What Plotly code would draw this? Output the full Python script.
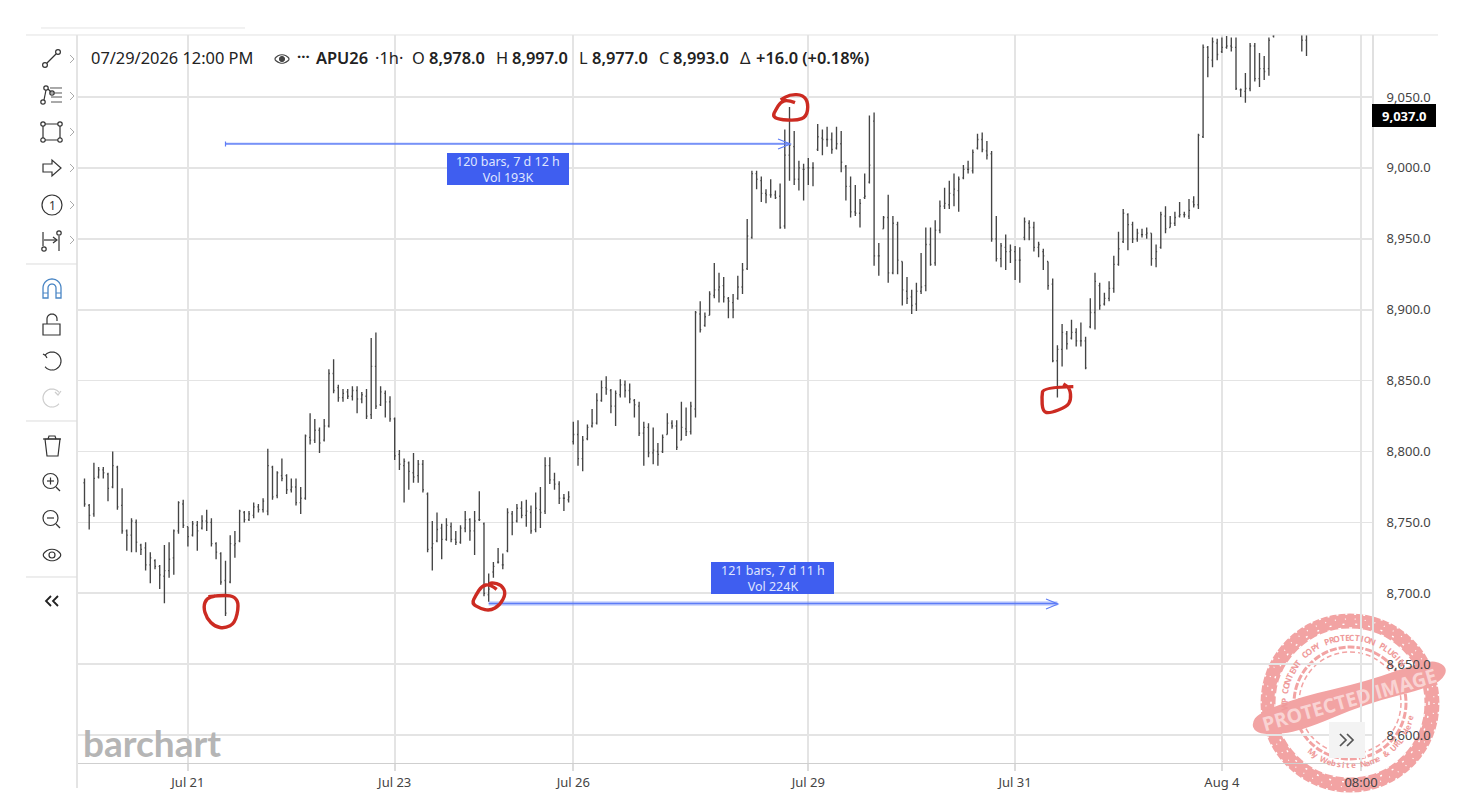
import math
import plotly.graph_objects as go

W, H = 1484, 812

# ---------- data ----------
highs = [8781,8763,8792,8789,8789,8785,8800,8790,8774,8745,
 8753,8752,8735,8736,8729,8724,8720,8734,8736,8745,
 8765,8766,8747,8751,8751,8755,8759,8753,8736,8729,
 8723,8741,8744,8759,8758,8758,8764,8763,8767,8802,
 8790,8786,8795,8784,8781,8781,8775,8812,8827,8823,
 8817,8823,8858,8865,8847,8844,8844,8846,8846,8842,
 8844,8880,8884,8846,8843,8839,8824,8801,8795,8793,
 8799,8794,8794,8771,8751,8757,8749,8753,8750,8744,
 8748,8758,8753,8758,8772,8750,8714,8722,8732,8728,
 8760,8758,8763,8765,8766,8762,8771,8775,8796,8796,
 8785,8779,8770,8772,8821,8822,8811,8819,8830,8841,
 8850,8853,8844,8843,8851,8850,8848,8837,8835,8821,
 8820,8817,8806,8812,8827,8822,8822,8835,8831,8835,
 8899,8906,8898,8913,8933,8926,8923,8909,8911,8924,
 8933,8964,8998,8998,8994,8985,8992,8984,8989,9027,
 9043,9026,9005,9003,9007,9004,9031,9027,9029,9025,
 9029,9026,9002,8994,8988,8978,8996,9037,9039,8947,
 8966,8981,8966,8962,8934,8923,8914,8919,8940,8958,
 8958,8963,8977,8986,8991,8996,8994,9002,9005,9013,
 9024,9025,9019,9012,8966,8947,8953,8946,8945,8944,
 8965,8963,8962,8948,8943,8934,8922,8875,8890,8885,
 8893,8887,8891,8881,8908,8926,8919,8912,8920,8938,
 8955,8971,8968,8962,8957,8957,8958,8954,8946,8969,
 8973,8966,8969,8976,8969,8978,8980,9024,9087,9086,
 9092,9091,9092,9093,9092,9092,9056,9067,9088,9088,
 9081,9079,9092,9100,None,None,None,None,None,9110,9112]

lows = [8761,8745,8754,8781,8781,8765,8774,8759,8742,8730,
 8729,8729,8727,8716,8707,8717,8703,8693,8711,8713,
 8742,8746,8733,8740,8730,8745,8744,8733,8724,8706,
 8684,8707,8725,8736,8750,8751,8753,8757,8757,8755,
 8766,8767,8779,8770,8771,8762,8756,8766,8805,8806,
 8799,8807,8817,8841,8835,8835,8837,8836,8827,8834,
 8823,8823,8830,8832,8824,8821,8794,8787,8764,8773,
 8778,8778,8771,8729,8716,8736,8724,8737,8736,8734,
 8735,8743,8737,8727,8751,8698,8694,8711,8721,8717,
 8729,8741,8750,8753,8747,8742,8743,8746,8756,8777,
 8773,8763,8758,8764,8805,8790,8786,8808,8817,8819,
 8835,8840,8827,8818,8838,8838,8834,8824,8811,8790,
 8796,8791,8790,8799,8812,8816,8801,8808,8811,8812,
 8824,8884,8888,8896,8908,8905,8905,8894,8894,8907,
 8911,8928,8950,8985,8976,8975,8979,8978,8957,8957,
 8991,8988,8984,8977,8988,8987,9012,9009,9015,9010,
 9013,8997,8977,8965,8966,8958,8978,8989,8931,8924,
 8957,8919,8925,8925,8903,8904,8897,8899,8911,8913,
 8931,8931,8954,8971,8971,8973,8969,8992,8996,8996,
 9013,9011,9006,8948,8934,8930,8928,8933,8921,8919,
 8949,8949,8941,8937,8928,8914,8863,8838,8860,8872,
 8879,8874,8874,8858,8887,8886,8900,8903,8906,8912,
 8931,8947,8942,8947,8948,8951,8950,8931,8930,8943,
 8954,8958,8959,8965,8965,8964,8972,8971,9021,9064,
 9071,9076,9081,9084,9082,9055,9050,9046,9054,9061,
 9057,9062,9065,9092,None,None,None,None,None,9082,9079]

opens = [8778,8762,8756,8782,8787,8784,8775,8789,8762,8744,
 8741,8750,8734,8732,8720,8723,8719,8712,8716,8725,
 8744,8763,8747,8741,8748,8746,8751,8750,8735,8728,
 8709,8708,8734,8737,8757,8752,8755,8761,8759,8758,
 8789,8769,8783,8783,8773,8775,8764,8767,8810,8808,
 8815,8808,8818,8855,8845,8838,8842,8839,8843,8837,
 8839,8826,8860,8833,8841,8835,8823,8798,8790,8792,
 8785,8783,8791,8770,8732,8737,8746,8738,8747,8738,
 8736,8746,8752,8744,8752,8749,8699,8715,8722,8720,
 8730,8756,8751,8760,8755,8757,8745,8759,8758,8790,
 8780,8777,8767,8766,8807,8812,8795,8809,8818,8820,
 8836,8845,8843,8832,8840,8847,8843,8836,8832,8813,
 8817,8799,8800,8800,8812,8820,8818,8808,8816,8814,
 8830,8897,8889,8896,8910,8914,8917,8908,8905,8908,
 8916,8929,8951,8996,8991,8982,8981,8981,8980,8959,
 9009,9015,8992,8999,9000,9000,9013,9021,9020,9020,
 9014,9017,9001,8987,8969,8968,8979,8990,9033,8938,
 8957,8965,8926,8960,8934,8913,8909,8904,8913,8917,
 8946,8933,8956,8973,8974,8981,8984,8993,8999,8998,
 9014,9020,9012,9010,8950,8936,8944,8941,8941,8935,
 8951,8961,8958,8944,8941,8934,8918,8864,8872,8883,
 8880,8884,8878,8878,8888,8898,8917,8904,8908,8915,
 8932,8948,8967,8960,8950,8953,8953,8954,8936,8944,
 8966,8958,8961,8966,8967,8966,8976,8974,9022,9085,
 9076,9088,9082,9085,9086,9085,9055,9054,9056,9086,
 9063,9070,9070,9093,None,None,None,None,None,9100,9090]

closes = [8763,8755,8781,8787,8785,8774,8790,8761,8744,8741,
 8751,8736,8731,8720,8725,8719,8713,8716,8724,8744,
 8764,8748,8740,8749,8744,8751,8750,8735,8729,8708,
 8686,8735,8735,8758,8752,8756,8761,8759,8765,8790,
 8768,8785,8781,8773,8775,8764,8767,8811,8808,8815,
 8806,8818,8855,8843,8838,8841,8839,8843,8837,8840,
 8825,8860,8832,8842,8835,8823,8797,8791,8793,8786,
 8782,8791,8773,8731,8735,8745,8738,8748,8738,8736,
 8746,8752,8744,8751,8752,8700,8703,8719,8722,8720,
 8757,8750,8760,8755,8758,8744,8760,8757,8790,8780,
 8777,8767,8767,8768,8812,8795,8808,8817,8820,8836,
 8845,8844,8832,8841,8847,8843,8837,8833,8813,8817,
 8799,8801,8798,8810,8820,8818,8803,8817,8814,8832,
 8898,8886,8895,8911,8914,8916,8909,8906,8900,8916,
 8928,8952,8996,8992,8982,8981,8981,8979,8958,9009,
 9016,8992,9000,8999,9000,9000,9022,9020,9020,9013,
 9017,9004,8987,8969,8968,8975,8980,9002,8938,8938,
 8965,8926,8961,8935,8914,8908,8903,8913,8916,8946,
 8932,8956,8973,8975,8982,8985,8992,8999,8999,9011,
 9020,9013,9009,8950,8936,8945,8941,8942,8935,8935,
 8962,8958,8944,8946,8938,8917,8864,8872,8884,8876,
 8884,8878,8878,8859,8898,8920,8903,8908,8915,8932,
 8943,8968,8960,8950,8954,8953,8954,8936,8941,8967,
 8957,8961,8965,8967,8967,8970,8974,9023,9085,9078,
 9089,9080,9085,9086,9085,9056,9055,9056,9086,9063,
 9070,9068,9090,9094,None,None,None,None,None,9090,9100]

bar_index = list(range(len(highs)))

x_tick_pos = [22, 66, 104, 154, 198, 242, 271.6]
x_tick_labels = ["Jul 21", "Jul 23", "Jul 26", "Jul 29", "Jul 31", "Aug 4", "08:00"]
y_ticks = [8600, 8650, 8700, 8750, 8800, 8850, 8900, 8950, 9000, 9050]

measure_top = dict(start=30, end=150, price=9017, text="120 bars, 7 d 12 h<br>Vol 193K")
measure_bottom = dict(start=86, end=207, price=8692.8, text="121 bars, 7 d 11 h<br>Vol 224K")
last_price = "9,037.0"

header_parts = [
    (91, "07/29/2026 12:00 PM", False), (316, "APU26", True), (375, "·1h·", False),
    (412, "O", False), (429, "8,978.0", True), (496, "H", False), (512, "8,997.0", True),
    (579, "L", False), (592, "8,977.0", True), (659, "C", False), (673, "8,993.0", True),
    (740, "Δ", False), (756, "+16.0 (+0.18%)", True),
]

# ---------- helpers (page furniture in pixel terms) ----------
PLOT_L, PLOT_R, PLOT_T, PLOT_B = 78, 1372, 35, 763
FONT = "Noto Sans"
INK = "#333333"
shapes, annos = [], []

def fx(x): return x / W
def fy(y): return 1 - y / H

def path_str(pts, close=False, smooth=False):
    P = [(fx(x), fy(y)) for x, y in pts]
    if smooth:
        if close:
            s = "M%.5f,%.5f" % ((P[-1][0]+P[0][0])/2, (P[-1][1]+P[0][1])/2)
            for i in range(len(P)):
                a, b = P[i], P[(i+1) % len(P)]
                s += " Q%.5f,%.5f %.5f,%.5f" % (a[0], a[1], (a[0]+b[0])/2, (a[1]+b[1])/2)
            return s + " Z"
        s = "M%.5f,%.5f" % P[0]
        for i in range(1, len(P)-1):
            a, b = P[i], P[i+1]
            s += " Q%.5f,%.5f %.5f,%.5f" % (a[0], a[1], (a[0]+b[0])/2, (a[1]+b[1])/2)
        return s + " L%.5f,%.5f" % P[-1]
    s = "M" + " L".join("%.5f,%.5f" % p for p in P)
    return s + (" Z" if close else "")

def poly(pts, color=INK, width=1.2, close=False, fill=None, smooth=False, layer="above"):
    shapes.append(dict(type="path", xref="paper", yref="paper", path=path_str(pts, close, smooth),
                       line=dict(color=color, width=width), fillcolor=fill or "rgba(0,0,0,0)", layer=layer))

def circ(cx, cy, r, color=INK, width=1.2, fill=None, layer="above", dash=None):
    ln = dict(color=color, width=width)
    if dash: ln["dash"] = dash
    shapes.append(dict(type="circle", xref="paper", yref="paper", x0=fx(cx-r), x1=fx(cx+r),
                       y0=fy(cy+r), y1=fy(cy-r), line=ln, fillcolor=fill or "rgba(0,0,0,0)", layer=layer))

def rect(x0, y0, x1, y1, fill, line=None, width=0, layer="above"):
    shapes.append(dict(type="rect", xref="paper", yref="paper", x0=fx(x0), x1=fx(x1), y0=fy(y1), y1=fy(y0),
                       fillcolor=fill, line=dict(color=line or "rgba(0,0,0,0)", width=width), layer=layer))

def arc(cx, cy, r, a0, a1, n=24):
    return [(cx + r*math.cos(math.radians(a0+(a1-a0)*k/n)), cy + r*math.sin(math.radians(a0+(a1-a0)*k/n))) for k in range(n+1)]

def text(x, y, s, size=13, color=INK, bold=False, xanchor="left", angle=0, family=FONT, weight=None):
    f = dict(family=family, size=size, color=color)
    if weight: f["weight"] = weight
    annos.append(dict(xref="paper", yref="paper", x=fx(x), y=fy(y), text=("<b>%s</b>" % s) if bold else s,
                      showarrow=False, xanchor=xanchor, yanchor="middle", textangle=angle,
                      font=f, borderpad=0, borderwidth=0))

def zoomed(origin, pts):
    return [(origin[0]+a/3, origin[1]+b/3) for a, b in pts]

# ---------- frame ----------
poly([(41, 28), (245, 28)], "#e4e4e4", 1)
poly([(26, 35), (1438, 35)], "#e2e2e2", 1)
poly([(77, 35), (77, 788)], "#e4e4e4", 2)
for y in (264, 421, 577):
    poly([(26, y), (77, y)], "#dddddd", 1)

# ---------- toolbar ----------
for y in (59, 96, 132, 168, 205, 240):
    poly([(70, y-4), (74, y), (70, y+4)], "#aaaaaa", 1)

circ(45, 65, 2.4); circ(58, 52, 2.4); poly([(47, 63), (56, 54)])
circ(43, 102, 2.2); circ(46, 88, 2.2); circ(52, 93, 2.2)
poly([(44, 100), (46, 90)]); poly([(48, 89), (51, 92)])
for y in (88, 93, 97, 102):
    poly([(51 if y > 93 else 50, y), (62, y)], "#555555", 1)
poly([(43, 124), (60, 124), (60, 140), (43, 140)], close=True)
for cx, cy in ((43, 124), (60, 124), (43, 140), (60, 140)):
    circ(cx, cy, 2.2, fill="white")
poly([(43, 164), (52, 164), (52, 160), (61, 168), (52, 176), (52, 172), (43, 172)], close=True)
circ(52, 205, 10)
text(52, 205, "1", 12, "#333333", xanchor="center")
poly([(43, 232), (43, 246)]); circ(44, 249, 2.2)
poly([(44, 240), (56, 240)]); poly([(53, 237), (57, 240), (53, 243)])
poly([(59, 236), (59, 251)]); circ(59, 233, 2.2)

MAGNET = "#4a86c5"
poly(arc(52, 288, 9, 180, 360) + [(61, 298), (56, 298), (56, 288)] + arc(52, 288, 4, 0, -180)[1:] + [(48, 298), (43, 298)], MAGNET, 1.3, close=True)
poly([(43, 293), (48, 293)], MAGNET, 1); poly([(56, 293), (61, 293)], MAGNET, 1)

rect(43, 324, 60, 335, "rgba(0,0,0,0)", INK, 1.2)
poly([(47, 324), (47, 319)] + arc(52, 319, 5, 180, 360) + [(57, 321)])

poly(arc(52, 361, 9, 220, 500, 36)); poly([(43, 354), (45.5, 355.5), (47, 358)])
poly(arc(52, 398, 9, -40, -320, 36), "#cccccc"); poly([(61, 391), (58, 395), (55, 392)], "#cccccc")

poly([(45, 439), (47, 456), (58, 456), (60, 439)], close=True)
poly([(43, 439), (61, 439)]); poly([(48, 439), (49, 436), (55, 436), (56, 439)])

for cy, plus in ((481, True), (518, False)):
    circ(50.5, cy, 7.5)
    poly([(56, cy+6), (60, cy+10)])
    poly([(47, cy), (54, cy)])
    if plus: poly([(50.5, cy-3.5), (50.5, cy+3.5)])

poly([(42, 555), (47, 550), (52, 549), (57, 550), (62, 555), (57, 560), (52, 561), (47, 560)], close=True, smooth=True)
circ(52, 555, 3)
poly([(51, 596), (46, 601), (51, 606)], "#222222", 1.8)
poly([(58, 596), (53, 601), (58, 606)], "#222222", 1.8)

# ---------- header ----------
for x, s, b in header_parts:
    text(x, 58, s, 16.4, "#222222", weight=600 if b else None)
poly([(274, 59), (278, 55.5), (282, 54.5), (286, 55.5), (290, 59), (286, 62.5), (282, 63.5), (278, 62.5)],
     "#444444", 1.2, close=True, smooth=True)
circ(282, 59, 2.6, "#444444", 1, fill="#444444")
text(303, 56, "···", 15, "#222222", bold=True, xanchor="center")

# ---------- watermark (under the axis text) ----------
STAMP = "#f2a3a3"
SC = (1350, 703)
circ(SC[0], SC[1], 82, STAMP, 15, layer="below")
circ(SC[0], SC[1], 89, "white", 1.6, layer="below", dash="2px,7px")
circ(SC[0], SC[1], 84, "white", 1.2, layer="below", dash="1px,9px")
circ(SC[0], SC[1], 79, "white", 1.4, layer="below", dash="2px,11px")
circ(SC[0], SC[1], 75, "white", 1.4, layer="below", dash="3px,8px")
circ(SC[0], SC[1], 56, STAMP, 3, layer="below", dash="7px,2px")
circ(SC[0], SC[1], 51, STAMP, 1.5, layer="below", dash="5px,3px")
band = zoomed((1200, 600), [(155, 370), (175, 340), (300, 290), (500, 245), (680, 180), (730, 190), (742, 220),
                            (700, 260), (500, 310), (300, 395), (200, 405), (165, 395)])
poly(band, STAMP, 0, close=True, fill=STAMP, smooth=True, layer="below")
text(1349, 699, "PROTECTED IMAGE", 19.5, "#f9d3d3", bold=True, xanchor="center", angle=-16, family="Open Sans")

def curved(s, r, a_start, a_end, size, bottom=False):
    n = len(s)
    for k, ch in enumerate(s):
        a = a_start + (a_end - a_start) * k / (n - 1)
        cx = SC[0] + r * math.cos(math.radians(a))
        cy = SC[1] + r * math.sin(math.radians(a))
        rot = a - 90 if bottom else a + 90
        text(cx, cy, ch, size, "#ef9a9a", bold=True, xanchor="center", angle=rot, family="Open Sans")

curved("WP CONTENT COPY PROTECTION PLUGIN", 66, 177, 322, 8.5)
curved("My Website Name & URL Here", 62, 128, 14, 8, bottom=True)

# button
rect(1329, 722, 1365, 758, "#f3f3f3")
poly([(1340, 734), (1346, 740), (1340, 746)], "#555555", 1.7)
poly([(1347, 734), (1353, 740), (1347, 746)], "#555555", 1.7)

# ---------- logo, price tag ----------
text(83, 742, "barchart", 37, "#b5b5b5", family="Lato", weight=700)
rect(1372, 104, 1436, 127, "#000000")
text(1404, 115.5, last_price, 13, "white", bold=True, xanchor="center")

# ---------- measuring tools ----------
MEAS = "#5d7cf6"
for m, halo in ((measure_top, 2.5), (measure_bottom, 4.5)):
    shapes.append(dict(type="line", xref="x", yref="y", x0=m["start"], x1=m["end"], y0=m["price"], y1=m["price"],
                       line=dict(color="rgba(93,124,246,0.35)", width=halo), layer="above"))
    shapes.append(dict(type="line", xref="x", yref="y", x0=m["start"], x1=m["end"], y0=m["price"], y1=m["price"],
                       line=dict(color=MEAS, width=1.3), layer="above"))
poly([(778, 139), (790.5, 144), (778, 149)], MEAS, 1.1)
poly([(1046, 599), (1058, 604), (1046, 609)], MEAS, 1.1)
poly([(225.5, 141.5), (225.5, 146.5)], MEAS, 1.2)
BOX = "#3f5ef0"
rect(447, 153, 569, 185, BOX); rect(711, 562, 834, 594, BOX)
for cx, cy, m in ((508, 169, measure_top), (772.5, 578, measure_bottom)):
    annos.append(dict(xref="paper", yref="paper", x=fx(cx), y=fy(cy), text=m["text"], showarrow=False,
                      xanchor="center", yanchor="middle", align="center",
                      font=dict(family=FONT, size=12.5, color="#dfe5ff")))

# ---------- hand-drawn red marks ----------
RED = "#cc2b22"
marks = [
    ((75, 330), [(400, 800), (450, 795), (480, 800), (492, 825), (480, 880), (450, 895), (420, 890), (395, 865), (385, 830), (395, 805), (420, 798)]),
    ((400, 330), [(290, 778), (270, 762), (245, 768), (228, 795), (215, 820), (240, 835), (270, 843), (300, 825), (318, 790), (305, 765), (275, 757), (268, 762)]),
    ((680, 90), [(345, 38), (325, 30), (302, 35), (287, 60), (278, 78), (295, 88), (350, 92), (380, 80), (385, 40), (370, 15), (330, 13), (302, 30)]),
    ((1000, 30), [(220, 1070), (130, 1072), (125, 1100), (128, 1145), (150, 1150), (200, 1130), (213, 1110), (210, 1075), (190, 1062)]),
]
for origin, pts in marks:
    poly(zoomed(origin, pts), RED, 3.4, smooth=True)

# ---------- figure ----------
fig = go.Figure(go.Ohlc(
    x=bar_index, open=opens, high=highs, low=lows, close=closes, tickwidth=0.22,
    increasing=dict(line=dict(color="#444444", width=1.35)),
    decreasing=dict(line=dict(color="#444444", width=1.35)),
    hoverinfo="skip", showlegend=False,
))

def px_to_index(px): return (px - 84.5) / 4.7
def px_to_price(py): return 9050 - (py - 97) / 1.418

fig.update_layout(
    width=W, height=H, margin=dict(l=0, r=0, t=0, b=0, pad=0, autoexpand=False),
    paper_bgcolor="white", plot_bgcolor="rgba(0,0,0,0)", showlegend=False,
    font=dict(family=FONT, size=12, color=INK),
    shapes=shapes, annotations=annos,
    xaxis=dict(
        domain=[PLOT_L/W, PLOT_R/W], range=[px_to_index(PLOT_L), px_to_index(PLOT_R)],
        rangeslider=dict(visible=False), tickmode="array", tickvals=x_tick_pos, ticktext=x_tick_labels,
        showgrid=True, gridcolor="#e4e4e4", gridwidth=1.7, zeroline=False,
        ticks="outside", ticklen=7, tickcolor="#dcdcdc", tickwidth=1.6, ticklabelstandoff=0,
        tickfont=dict(family=FONT, size=13, color="#444444"),
        showline=True, linecolor="#cfcfcf", linewidth=1, automargin=False,
    ),
    yaxis=dict(
        domain=[1-PLOT_B/H, 1-PLOT_T/H], range=[px_to_price(PLOT_B), px_to_price(PLOT_T)], side="right",
        tickmode="array", tickvals=y_ticks, tickformat=",.1f",
        showgrid=True, gridcolor="#e4e4e4", gridwidth=1.7, zeroline=False,
        ticks="outside", ticklen=10, tickcolor="rgba(0,0,0,0)",
        tickfont=dict(family=FONT, size=13, color="#444444"),
        showline=True, linecolor="#e0e0e0", linewidth=2, automargin=False,
    ),
)

fig.write_html("out.html", config={"displayModeBar": False, "staticPlot": True},
               post_script="document.body.style.margin='0';document.documentElement.style.overflow='hidden';")
